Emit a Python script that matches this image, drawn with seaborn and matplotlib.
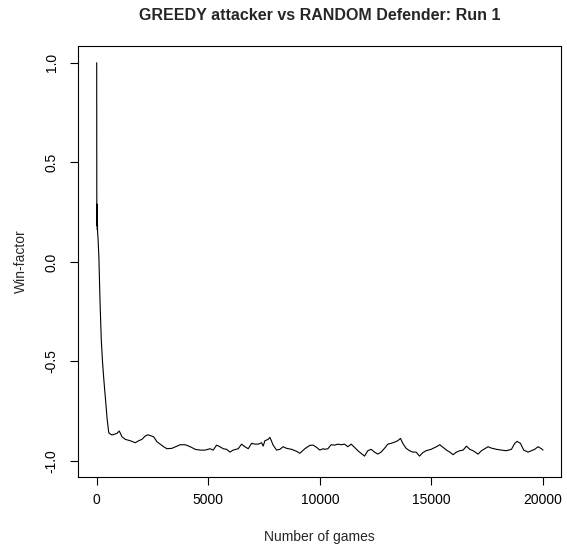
import matplotlib
matplotlib.use("Agg")
import matplotlib.pyplot as plt
import seaborn as sns
import pandas as pd

games = [1, 3, 6, 10, 14, 18, 22, 26, 30, 35, 40, 60, 100, 150, 206, 260, 327, 400, 470, 537,
         564, 685, 909, 1012, 1133, 1281, 1505, 1729, 1881, 2029, 2176, 2297, 2445, 2552, 2700,
         2848, 3000, 3148, 3372, 3596, 3744, 3968, 4191, 4415, 4639, 4863, 5074, 5221, 5374,
         5521, 5669, 5821, 5969, 6117, 6341, 6493, 6641, 6789, 6941, 7089, 7236, 7389, 7460,
         7537, 7684, 7761, 7908, 8060, 8208, 8356, 8508, 8732, 8956, 9104, 9328, 9552, 9699,
         9852, 9999, 10147, 10210, 10358, 10505, 10658, 10806, 10953, 11105, 11253, 11401,
         11553, 11701, 11849, 12001, 12149, 12297, 12449, 12597, 12744, 12897, 13045, 13192,
         13344, 13492, 13613, 13716, 13864, 14016, 14164, 14312, 14464, 14612, 14760, 14984,
         15225, 15373, 15521, 15673, 15821, 15969, 16121, 16269, 16417, 16569, 16717, 16865,
         17089, 17241, 17388, 17536, 17688, 17912, 18136, 18360, 18584, 18732, 18835, 18987,
         19135, 19327, 19479, 19627, 19775, 19927, 20000]
win_factor = [1.0, 0.30, 0.25, 0.29, 0.20, 0.27, 0.18, 0.24, 0.16, 0.20, 0.15, 0.12, 0.02,
              -0.20, -0.39, -0.50, -0.60, -0.70, -0.79, -0.855,
              -0.861, -0.869, -0.861, -0.849, -0.878, -0.891, -0.898, -0.908, -0.898, -0.891,
              -0.874, -0.868, -0.874, -0.878, -0.903, -0.915, -0.928, -0.938, -0.936, -0.925,
              -0.918, -0.918, -0.928, -0.941, -0.945, -0.945, -0.938, -0.945, -0.920, -0.928,
              -0.938, -0.941, -0.955, -0.945, -0.938, -0.915, -0.928, -0.938, -0.911, -0.915,
              -0.915, -0.908, -0.925, -0.898, -0.891, -0.881, -0.920, -0.945, -0.941, -0.928,
              -0.936, -0.941, -0.951, -0.961, -0.938, -0.921, -0.920, -0.931, -0.945, -0.938,
              -0.941, -0.938, -0.918, -0.920, -0.915, -0.918, -0.915, -0.928, -0.915, -0.931,
              -0.948, -0.961, -0.975, -0.948, -0.941, -0.955, -0.965, -0.955, -0.936, -0.915,
              -0.911, -0.905, -0.898, -0.886, -0.911, -0.936, -0.948, -0.955, -0.955, -0.975,
              -0.958, -0.948, -0.941, -0.928, -0.918, -0.931, -0.945, -0.955, -0.968, -0.955,
              -0.948, -0.945, -0.925, -0.941, -0.948, -0.965, -0.948, -0.938, -0.928, -0.935,
              -0.941, -0.945, -0.948, -0.941, -0.911, -0.901, -0.911, -0.945, -0.955, -0.948,
              -0.941, -0.928, -0.938, -0.945]

x_ticks = [0, 5000, 10000, 15000, 20000]
x_tick_labels = ["0", "5000", "10000", "15000", "20000"]
y_ticks = [-1.0, -0.5, 0.0, 0.5, 1.0]
y_tick_labels = ["-1.0", "-0.5", "0.0", "0.5", "1.0"]

title = "GREEDY attacker vs RANDOM Defender: Run 1"
x_label = "Number of games"
y_label = "Win-factor"

sns.set_theme(style="ticks")
plt.rcParams["font.family"] = ["Liberation Sans", "DejaVu Sans"]
plt.rcParams["axes.unicode_minus"] = False

df = pd.DataFrame({"games": games, "win_factor": win_factor})

fig = plt.figure(figsize=(5.67, 5.50), dpi=100)
ax = fig.add_axes([78 / 567, 1 - 477 / 550, (560.7 - 78) / 567, (477 - 46) / 550])

sns.lineplot(data=df, x="games", y="win_factor", ax=ax, color="black", linewidth=0.8)

ax.set_xlim(-837, 20791)
ax.set_ylim(-1.08, 1.084)
ax.set_xticks(x_ticks)
ax.set_xticklabels(x_tick_labels)
ax.set_yticks(y_ticks)
ax.set_yticklabels(y_tick_labels, rotation=90, va="center")

for s in ax.spines.values():
    s.set_visible(True)
    s.set_color("black")
    s.set_linewidth(0.8)

ax.tick_params(axis="both", direction="out", length=6, width=0.8, color="black",
               labelsize=10, labelcolor="black")
ax.tick_params(axis="x", pad=5.5)
ax.tick_params(axis="y", pad=8)

ax.set_title(title, fontsize=11.5, fontweight="bold", pad=0, y=1 + (46 - 20) / 431)
ax.set_xlabel(x_label, fontsize=10)
ax.set_ylabel(y_label, fontsize=10)
ax.xaxis.set_label_coords(0.5, -(530 - 477) / 431)
ax.yaxis.set_label_coords(-(78 - 28) / 482.7, 0.5)

fig.savefig("out.png", dpi=100, facecolor="white")
